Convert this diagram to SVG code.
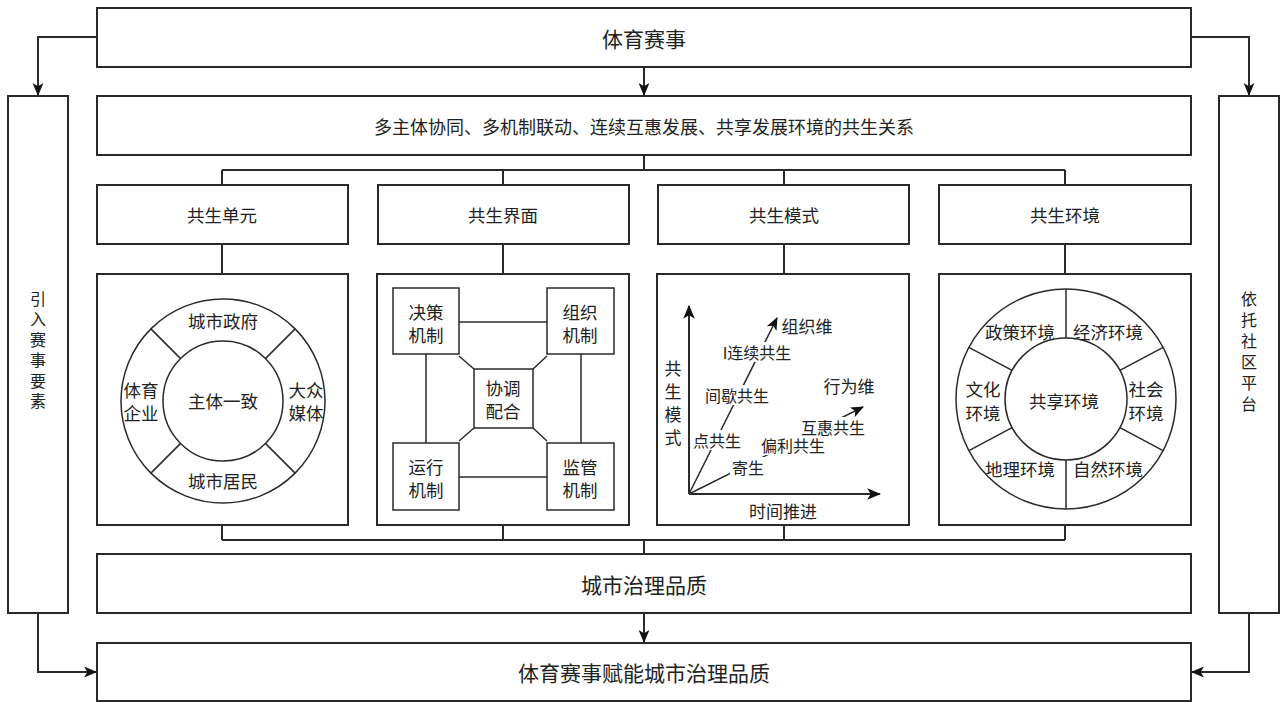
<svg xmlns="http://www.w3.org/2000/svg" width="1284" height="702" viewBox="0 0 1284 702">
<style>
text{font-family:"Noto Sans CJK SC","Noto Sans",sans-serif;fill:#222;text-anchor:middle;dominant-baseline:central}
.box{fill:#fff;stroke:#2a2a2a;stroke-width:2}
.thin{fill:none;stroke:#2a2a2a;stroke-width:1.5}
.conn{fill:none;stroke:#2a2a2a;stroke-width:2}
.t16{font-size:16px}
.t17{font-size:17px}
.t175{font-size:17.5px}
.t18{font-size:18px}
.vert{writing-mode:vertical-rl;text-orientation:upright;font-size:16px}
.lbl{fill:#fff;stroke:none}
</style>
<defs>
<marker id="arr" viewBox="0 0 12 12" refX="11" refY="6" markerWidth="13" markerHeight="13" markerUnits="userSpaceOnUse" orient="auto">
<path d="M0,1 L12,6 L0,11 L3,6 z" fill="#111"/>
</marker>
<marker id="arr2" viewBox="0 0 12 12" refX="11" refY="6" markerWidth="14" markerHeight="14" markerUnits="userSpaceOnUse" orient="auto">
<path d="M0,1 L12,6 L0,11 L3,6 z" fill="#111"/>
</marker>
</defs>
<rect width="1284" height="702" fill="#fff"/>

<g id="connectors">
<path class="conn" d="M97,37 H38 V95" marker-end="url(#arr)"/>
<path class="conn" d="M1191,37 H1249 V95" marker-end="url(#arr)"/>
<path class="conn" d="M644,67 V95" marker-end="url(#arr)"/>
<path class="conn" d="M644,155 V170 M222,170 H1065 M222,170 V185 M503,170 V185 M784,170 V185 M1065,170 V185"/>
<path class="conn" d="M222,244 V274 M503,244 V274 M784,244 V274 M1065,244 V274"/>
<path class="conn" d="M222,525 V540 M503,525 V540 M784,525 V540 M1065,525 V540 M222,540 H1065 M644,540 V554"/>
<path class="conn" d="M644,613 V642" marker-end="url(#arr)"/>
<path class="conn" d="M38,613 V672 H96" marker-end="url(#arr)"/>
<path class="conn" d="M1249,613 V672 H1192" marker-end="url(#arr)"/>
</g>

<g id="top">
<rect class="box" x="97" y="8" width="1094" height="59"/>
<text x="644" y="38" style="font-size:21px">体育赛事</text>
</g>
<g id="relation">
<rect class="box" x="97" y="96" width="1094" height="59"/>
<text class="t18" x="644" y="126">多主体协同、多机制联动、连续互惠发展、共享发展环境的共生关系</text>
</g>
<g id="left-side">
<rect class="box" x="8" y="96" width="60" height="517"/>
<text class="vert" x="38" y="352" letter-spacing="4.5">引入赛事要素</text>
</g>
<g id="right-side">
<rect class="box" x="1219" y="96" width="60" height="517"/>
<text class="vert" x="1249" y="354" letter-spacing="5">依托社区平台</text>
</g>

<g id="h-unit"><rect class="box" x="97" y="185" width="251" height="59"/><text class="t175" x="222" y="214">共生单元</text></g>
<g id="h-interface"><rect class="box" x="378" y="185" width="251" height="59"/><text class="t175" x="503" y="214">共生界面</text></g>
<g id="h-mode"><rect class="box" x="658" y="185" width="251" height="59"/><text class="t175" x="784" y="214">共生模式</text></g>
<g id="h-env"><rect class="box" x="939" y="185" width="252" height="59"/><text class="t175" x="1065" y="214">共生环境</text></g>

<g id="p-unit">
<rect class="box" x="97" y="274" width="251" height="251"/>
<circle class="thin" cx="223" cy="401" r="102"/>
<circle class="thin" cx="223" cy="401" r="60"/>
<path class="thin" d="M180.6,358.6 L150.9,328.9 M265.4,358.6 L295.1,328.9 M180.6,443.4 L150.9,473.1 M265.4,443.4 L295.1,473.1"/>
<text class="t175" x="223" y="320">城市政府</text>
<text class="t175" x="223" y="400">主体一致</text>
<text class="t175" x="223" y="480">城市居民</text>
<text class="t175"><tspan x="141" y="389">体育</tspan><tspan x="141" y="412">企业</tspan></text>
<text class="t175"><tspan x="306" y="389">大众</tspan><tspan x="306" y="412">媒体</tspan></text>
</g>

<g id="p-interface">
<rect class="box" x="377" y="274" width="252" height="251"/>
<path class="thin" d="M459,322 H547 M459,477 H547 M426,354 V443 M581,354 V443 M459,356 L474,369 M547,356 L533,369 M459,441 L474,428 M547,441 L533,428"/>
<rect class="thin" x="393" y="288" width="66" height="66"/>
<rect class="thin" x="547" y="288" width="67" height="66"/>
<rect class="thin" x="393" y="443" width="66" height="67"/>
<rect class="thin" x="547" y="443" width="67" height="67"/>
<rect class="thin" x="474" y="369" width="59" height="59"/>
<text class="t175"><tspan x="426" y="311">决策</tspan><tspan x="426" y="334">机制</tspan></text>
<text class="t175"><tspan x="580" y="311">组织</tspan><tspan x="580" y="334">机制</tspan></text>
<text class="t175"><tspan x="426" y="466">运行</tspan><tspan x="426" y="489">机制</tspan></text>
<text class="t175"><tspan x="580" y="466">监管</tspan><tspan x="580" y="489">机制</tspan></text>
<text class="t175"><tspan x="503" y="387">协调</tspan><tspan x="503" y="410">配合</tspan></text>
</g>

<g id="p-mode">
<rect class="box" x="657" y="274" width="252" height="251"/>
<path class="conn" d="M689,494 V306" marker-end="url(#arr2)"/>
<path class="conn" d="M689,494 H880" marker-end="url(#arr2)"/>
<path class="thin" d="M689,494 L777,318" marker-end="url(#arr)"/>
<path class="thin" d="M689,494 L863,407" marker-end="url(#arr)"/>
<rect class="lbl" x="692" y="430" width="50" height="20"/>
<rect class="lbl" x="703" y="385" width="68" height="20"/>
<rect class="lbl" x="722" y="342" width="70" height="20"/>
<rect class="lbl" x="730" y="457" width="36" height="20"/>
<rect class="lbl" x="760" y="435" width="66" height="20"/>
<rect class="lbl" x="800" y="417" width="66" height="20"/>
<text class="t16" x="717" y="440">点共生</text>
<text class="t16" x="737" y="395">间歇共生</text>
<text class="t16" x="757" y="352">I连续共生</text>
<text class="t17" x="807" y="325">组织维</text>
<text class="t16" x="748" y="467">寄生</text>
<text class="t16" x="793" y="445">偏利共生</text>
<text class="t16" x="833" y="427">互惠共生</text>
<text class="t17" x="849" y="385">行为维</text>
<text class="vert" x="673" y="406" letter-spacing="6" style="font-size:17px">共生模式</text>
<text class="t17" x="783" y="510">时间推进</text>
</g>

<g id="p-env">
<rect class="box" x="939" y="274" width="252" height="251"/>
<circle class="thin" cx="1066" cy="399" r="110"/>
<circle class="thin" cx="1066" cy="399" r="61"/>
<path class="thin" d="M1066,289 V338 M1066,460 V509 M1012.1,370.4 L968.9,347.4 M1119.9,370.4 L1163.1,347.4 M1012.1,427.6 L968.9,450.6 M1119.9,427.6 L1163.1,450.6"/>
<text class="t175" x="1020" y="331">政策环境</text>
<text class="t175" x="1108" y="331">经济环境</text>
<text class="t175"><tspan x="983" y="388">文化</tspan><tspan x="983" y="412">环境</tspan></text>
<text class="t175"><tspan x="1146" y="388">社会</tspan><tspan x="1146" y="412">环境</tspan></text>
<text class="t175" x="1064" y="400">共享环境</text>
<text class="t175" x="1020" y="468">地理环境</text>
<text class="t175" x="1108" y="468">自然环境</text>
</g>

<g id="quality">
<rect class="box" x="97" y="554" width="1094" height="59"/>
<text x="644" y="584" style="font-size:21px">城市治理品质</text>
</g>
<g id="result">
<rect class="box" x="97" y="643" width="1094" height="58"/>
<text x="644" y="672" style="font-size:21px">体育赛事赋能城市治理品质</text>
</g>
</svg>
